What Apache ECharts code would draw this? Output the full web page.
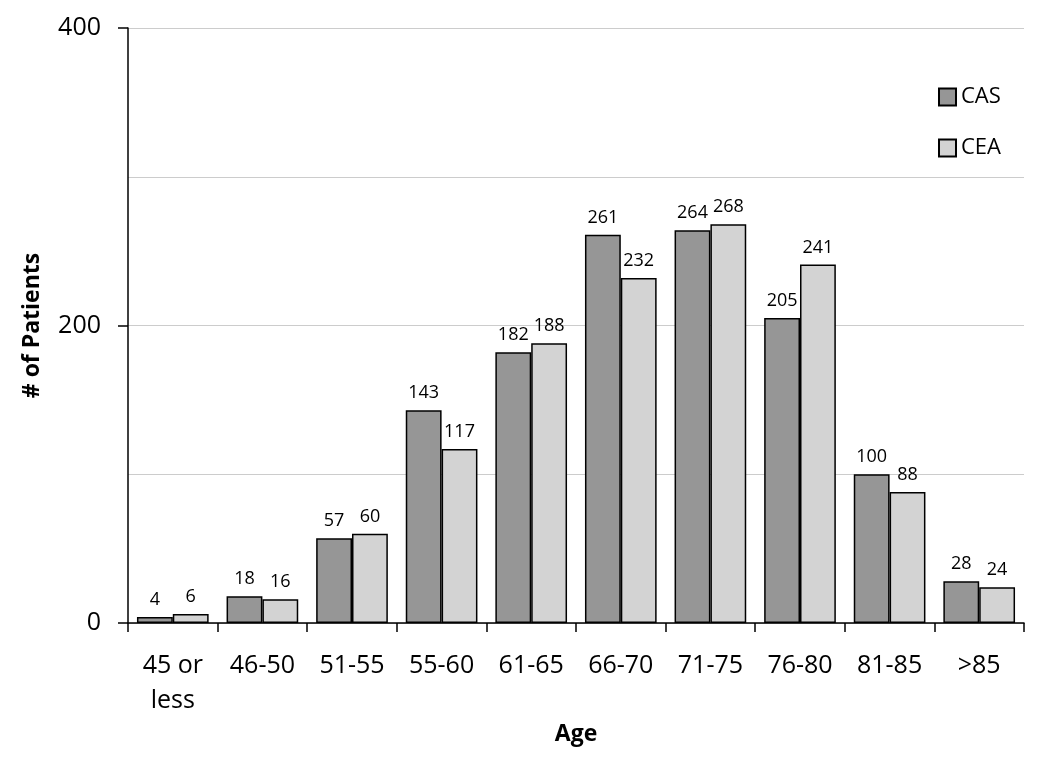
<!DOCTYPE html>
<html><head><meta charset="utf-8">
<script src="https://cdn.jsdelivr.net/npm/echarts@6/dist/echarts.min.js"></script>
<style>html,body{margin:0;padding:0;background:#fff}#c{width:1050px;height:763px}</style>
</head><body><div id="c"></div>
<script>
const categories = ['45 or\nless','46-50','51-55','55-60','61-65','66-70','71-75','76-80','81-85','>85'];
const casValues = [4,18,57,143,182,261,264,205,100,28];
const ceaValues = [6,16,60,117,188,232,268,241,88,24];
const yTicks = [0,200,400];

const font = '"Open Sans", sans-serif';
const chart = echarts.init(document.getElementById('c'));
const labelStyle = {show:true, position:'top', distance:8, fontSize:18, color:'#000', fontFamily:font};
chart.setOption({
  animation:false,
  textStyle:{fontFamily:font},
  grid:{left:128, right:26, top:28, bottom:140},
  legend:{
    orient:'vertical', right:44, top:81, icon:'rect', itemWidth:17, itemHeight:17, itemGap:29,
    textStyle:{fontSize:22, color:'#000', fontFamily:font},
    data:['CAS','CEA']
  },
  xAxis:{
    type:'category', data:categories, name:'Age', nameLocation:'middle', nameGap:96,
    nameTextStyle:{fontSize:23, fontWeight:'bold', color:'#000', fontFamily:font},
    axisLine:{lineStyle:{color:'#000', width:1.5}},
    axisTick:{show:true, length:9, lineStyle:{color:'#000', width:1.5}},
    axisLabel:{fontSize:25, color:'#000', margin:25, lineHeight:35, fontFamily:font}
  },
  yAxis:{
    type:'value', min:yTicks[0], max:yTicks[yTicks.length-1], interval:200,
    name:'# of Patients', nameLocation:'middle', nameGap:84, nameRotate:90,
    nameTextStyle:{fontSize:23, fontWeight:'bold', color:'#000', fontFamily:font},
    axisLine:{show:true, lineStyle:{color:'#000', width:1.5}},
    axisTick:{show:true, length:10, lineStyle:{color:'#000', width:1.5}},
    axisLabel:{fontSize:25, color:'#000', margin:27, fontFamily:font},
    splitLine:{show:true, lineStyle:{color:'#cccccc', width:1}},
    minorTick:{show:false, splitNumber:2},
    minorSplitLine:{show:true, lineStyle:{color:'#cccccc', width:1}}
  },
  series:[
    {name:'CAS', type:'bar', data:casValues, barGap:'0%', barCategoryGap:'20%',
     itemStyle:{color:'#969696', borderColor:'#000', borderWidth:1.5}, label:labelStyle},
    {name:'CEA', type:'bar', data:ceaValues,
     itemStyle:{color:'#d3d3d3', borderColor:'#000', borderWidth:1.5}, label:labelStyle}
  ]
});
</script></body></html>
